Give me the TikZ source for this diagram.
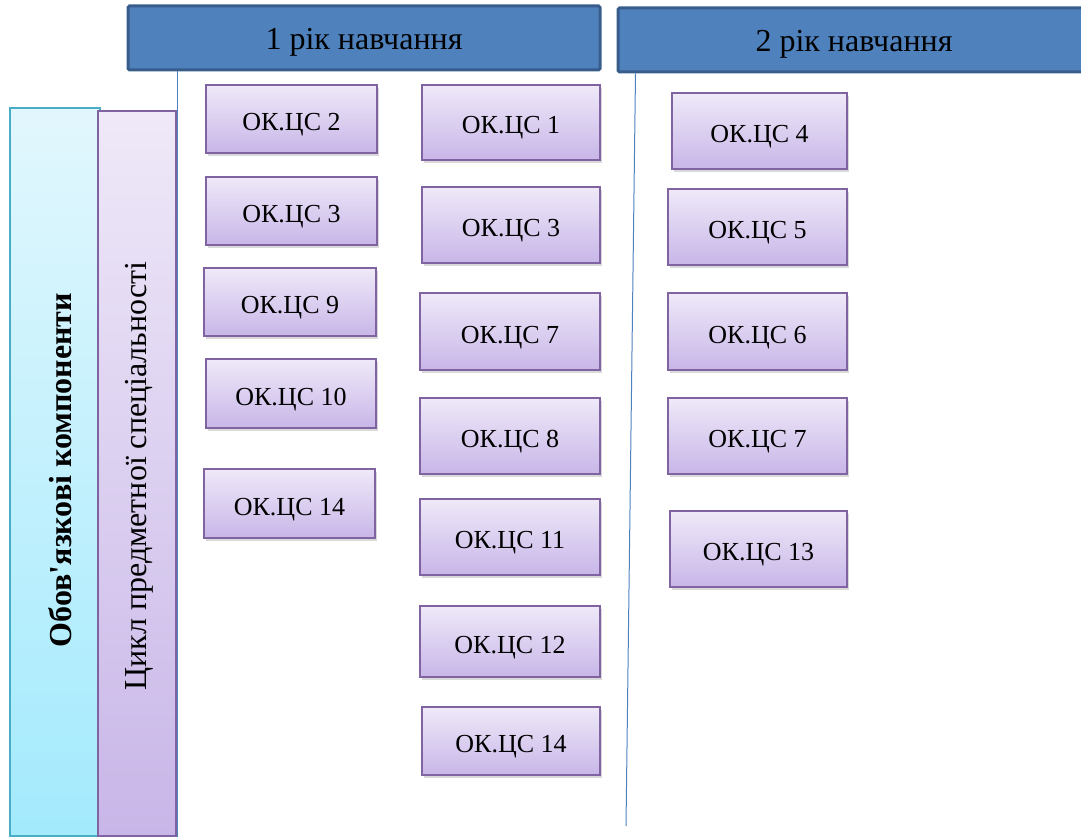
\documentclass[tikz,border=0pt]{standalone}
\usepackage{fontspec}
\setmainfont{Liberation Serif}
\usepackage{tikz}
\usetikzlibrary{calc,shadows}
\definecolor{hdrfill}{HTML}{4F81BD}
\definecolor{hdrline}{HTML}{385D8A}
\definecolor{boxtop}{HTML}{EFE9F8}
\definecolor{boxbot}{HTML}{C8B6E8}
\definecolor{boxline}{HTML}{8064A2}
\definecolor{cyantop}{HTML}{E2F7FD}
\definecolor{cyanbot}{HTML}{A3EAFD}
\definecolor{cyanline}{HTML}{4BACC6}
\tikzset{
  header/.style={draw=hdrline, line width=3pt, fill=hdrfill, rounded corners=1.5pt,
    inner sep=0pt, text height=23pt, text depth=0pt, font=\rmfamily\fontsize{32}{36}\selectfont},
  course/.style={draw=boxline, line width=1.5pt, top color=boxtop, bottom color=boxbot,
    inner sep=0pt, text height=23pt, text depth=0pt, font=\rmfamily\fontsize{26}{30}\selectfont,
    drop shadow={shadow xshift=2pt, shadow yshift=-3pt, opacity=0.25, fill=black!60}},
  cyanbar/.style={draw=cyanline, line width=1.5pt, top color=cyantop, bottom color=cyanbot, inner sep=0pt},
  purplebar/.style={draw=boxline, line width=1.5pt, top color=boxtop, bottom color=boxbot, inner sep=0pt},
  link/.style={draw=hdrfill, line width=1pt}
}

\begin{document}
\begin{tikzpicture}[x=1pt, y=-1pt]
  \useasboundingbox (0,0) rectangle (1081,837);

  % year headers
  \node[header, minimum width=472, minimum height=64] (year1) at (364,38) {1 рік навчання};
  \node[header, minimum width=472, minimum height=64] (year2) at (854,40) {2 рік навчання};

  % left bars
  \node[cyanbar, minimum width=90, minimum height=728] (oblig) at (55,472) {};
  \node[purplebar, minimum width=78, minimum height=725] (cycle) at (137,473.5) {};
  \node[rotate=90, font=\rmfamily\bfseries\fontsize{32}{36}\selectfont] (obligtxt) at (60,470) {Обов\textquotesingle язкові компоненти};
  \node[rotate=90, font=\rmfamily\fontsize{32}{36}\selectfont] (cycletxt) at (139,476) {Цикл предметної спеціальності};

  % links
  \coordinate (end1) at (177,837);
  \coordinate (end2) at (626,826);
  \draw[link] (year1.south west -| end1) -- (end1);
  \draw[link] ($(year2.south west)+(19,0)$) -- (end2);

  % first year, column a
  \node[course, minimum width=171, minimum height=68] (a2) at (291.5,119) {ОК.ЦС 2};
  \node[course, minimum width=171, minimum height=68] (a3) at (291.5,211) {ОК.ЦС 3};
  \node[course, minimum width=172, minimum height=68] (a9) at (290,302) {ОК.ЦС 9};
  \node[course, minimum width=170, minimum height=69] (a10) at (291,393.5) {ОК.ЦС 10};
  \node[course, minimum width=171, minimum height=69] (a14) at (289.5,503.5) {ОК.ЦС 14};

  % first year, column b
  \node[course, minimum width=178, minimum height=75] (b1) at (511,122.5) {ОК.ЦС 1};
  \node[course, minimum width=178, minimum height=76] (b3) at (511,225) {ОК.ЦС 3};
  \node[course, minimum width=180, minimum height=77] (b7) at (510,331.5) {ОК.ЦС 7};
  \node[course, minimum width=180, minimum height=76] (b8) at (510,436) {ОК.ЦС 8};
  \node[course, minimum width=180, minimum height=76] (b11) at (510,537) {ОК.ЦС 11};
  \node[course, minimum width=180, minimum height=71] (b12) at (510,641.5) {ОК.ЦС 12};
  \node[course, minimum width=178, minimum height=68] (b14) at (511,741) {ОК.ЦС 14};

  % second year
  \node[course, minimum width=175, minimum height=76] (c4) at (759.5,131) {ОК.ЦС 4};
  \node[course, minimum width=179, minimum height=76] (c5) at (757.5,227) {ОК.ЦС 5};
  \node[course, minimum width=179, minimum height=77] (c6) at (757.5,331.5) {ОК.ЦС 6};
  \node[course, minimum width=179, minimum height=76] (c7) at (757.5,436) {ОК.ЦС 7};
  \node[course, minimum width=177, minimum height=76] (c13) at (758.5,549) {ОК.ЦС 13};
\end{tikzpicture}
\end{document}
